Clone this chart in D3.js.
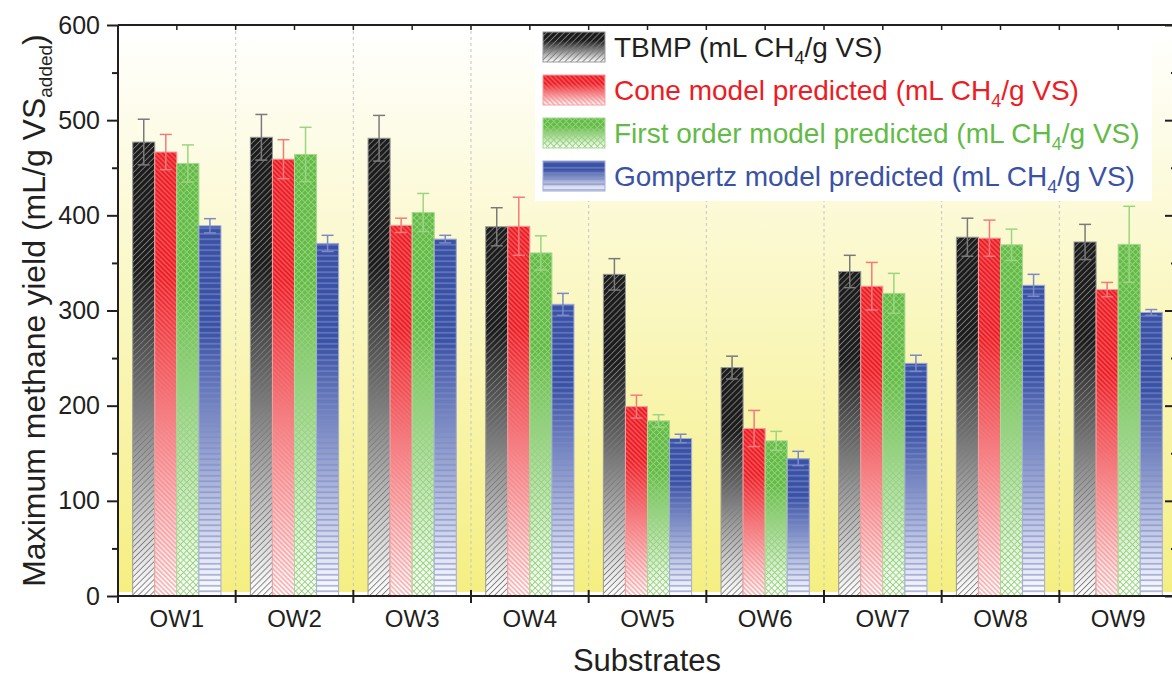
<!DOCTYPE html>
<html lang="en">
<head>
<meta charset="utf-8">
<title>Maximum methane yield</title>
<script src="https://cdn.jsdelivr.net/npm/d3@7"></script>
<style>
    body { margin: 0; background: #fff; }
    svg text { font-family: "Liberation Sans", Arial, sans-serif; fill: #231f20; }
</style>
</head>
<body>
<div id="chart"></div>
<script>
var substrates = ["OW1", "OW2", "OW3", "OW4", "OW5", "OW6", "OW7", "OW8", "OW9"];

var tbmp      = [477, 482, 481, 388, 338, 240, 341, 377, 372];
var tbmpErr   = [24, 24, 24, 20, 16.5, 12, 17, 20, 18.5];
var cone      = [466.5, 459, 389.5, 388.5, 199, 176, 325.5, 376, 322];
var coneErr   = [18.5, 20.5, 7.5, 30.5, 12, 19, 25, 19, 7.5];
var firstOrd  = [454.5, 464, 403, 360.5, 184, 163, 318, 369, 369.5];
var firstErr  = [19.5, 28.5, 20, 18, 6.5, 10, 21, 16.5, 40];
var gompertz  = [389, 370.5, 375, 306.5, 165.5, 144.5, 244.5, 326.5, 298];
var gompErr   = [7.5, 8.5, 4, 11.5, 4.5, 7.5, 8.5, 11.5, 3];

var seriesNames = ["TBMP (mL CH", "Cone model predicted (mL CH", "First order model predicted (mL CH", "Gompertz model predicted (mL CH"];
var yTicks = [0, 100, 200, 300, 400, 500, 600];
var yMinor = [50, 150, 250, 350, 450, 550];

var width = 1172;
var height = 680;
// note: "top" clashes with window.top, so plot edges get their own names
var plotL = 118, plotR = 1177, plotT = 25, plotB = 596;

// colours / hatch per series
var looks = [
    {color: "#1c1c1c", line: "#7c7c7c", edge: "#9a9a9a", err: "#7a7a7a", text: "#231f20", angle: 45, gap: 4.2, cross: false},
    {color: "#ed1c24", line: "#f37d7f", edge: "#f4a0a0", err: "#f47a7a", text: "#ed1c24", angle: -45, gap: 3.4, cross: false},
    {color: "#62bb46", line: "#96d27c", edge: "#a8da92", err: "#9cd580", text: "#62bb46", angle: 45, gap: 4.4, cross: true},
    {color: "#3a52a4", line: "#7b89cc", edge: "#a3acd8", err: "#7d8ac8", text: "#3a52a4", angle: 0, gap: 5.5, cross: false}
];

var series = [
    {vals: tbmp, errs: tbmpErr},
    {vals: cone, errs: coneErr},
    {vals: firstOrd, errs: firstErr},
    {vals: gompertz, errs: gompErr}
];

const svg = d3.select("#chart")
    .append("svg")
    .attr("width", width)
    .attr("height", height);

var defs = svg.append("defs");

var bg = defs.append("linearGradient")
    .attr("id", "bg")
    .attr("x1", 0).attr("y1", 0).attr("x2", 0).attr("y2", 1);
bg.append("stop").attr("offset", "0%").attr("stop-color", "#ffffff");
bg.append("stop").attr("offset", "100%").attr("stop-color", "#f5ef82");

looks.forEach(function(l, i) {
    var g = defs.append("linearGradient")
        .attr("id", "grad" + i)
        .attr("x1", 0).attr("y1", 0).attr("x2", 0).attr("y2", 1);
    g.append("stop").attr("offset", "0%").attr("stop-color", l.color);
    g.append("stop").attr("offset", "28%").attr("stop-color", l.color);
    g.append("stop").attr("offset", "100%").attr("stop-color", "#ffffff");

    var p = defs.append("pattern")
        .attr("id", "hatch" + i)
        .attr("patternUnits", "userSpaceOnUse")
        .attr("width", l.gap)
        .attr("height", l.gap)
        .attr("patternTransform", "rotate(" + l.angle + ")");
    if (l.angle == 0) {
        p.append("line")
            .attr("x1", 0).attr("x2", l.gap)
            .attr("y1", l.gap / 2).attr("y2", l.gap / 2)
            .attr("stroke", l.line).attr("stroke-width", 1.1);
    }
    else {
        p.append("line")
            .attr("x1", l.gap / 2).attr("x2", l.gap / 2)
            .attr("y1", 0).attr("y2", l.gap)
            .attr("stroke", l.line).attr("stroke-width", 0.9);
        if (l.cross) {
            p.append("line")
                .attr("x1", 0).attr("x2", l.gap)
                .attr("y1", l.gap / 2).attr("y2", l.gap / 2)
                .attr("stroke", l.line).attr("stroke-width", 0.9);
        }
    }
});

var x = d3.scaleBand()
    .domain(substrates)
    .range([plotL, plotR]);

var xs = d3.scaleBand()
    .domain(d3.range(series.length))
    .range([x.bandwidth() * 0.125, x.bandwidth() * 0.875]);

var y = d3.scaleLinear()
    .domain([0, 600])
    .range([plotB, plotT]);

// plot background
svg.append("rect")
    .attr("x", plotL).attr("y", plotT)
    .attr("width", plotR - plotL)
    .attr("height", plotB - plotT - 4)
    .attr("fill", "url(#bg)");

// dashed separators
svg.append("g")
    .selectAll("line")
    .data(substrates.slice(1))
    .join("line")
    .attr("x1", function(d) { return x(d); })
    .attr("x2", function(d) { return x(d); })
    .attr("y1", plotT)
    .attr("y2", plotB)
    .attr("stroke", "#c4c4c4")
    .attr("stroke-width", 1)
    .attr("stroke-dasharray", "3,3");

// bars
series.forEach(function(s, i) {
    var l = looks[i];
    var g = svg.append("g");
    var rows = substrates.map(function(c, k) { return {cat: c, v: s.vals[k], e: s.errs[k]}; });

    g.selectAll("rect.fill")
        .data(rows)
        .join("rect")
        .attr("class", "fill")
        .attr("x", function(d) { return x(d.cat) + xs(i); })
        .attr("y", function(d) { return y(d.v); })
        .attr("width", xs.bandwidth())
        .attr("height", function(d) { return y(0) - y(d.v); })
        .attr("fill", "url(#grad" + i + ")");

    g.selectAll("rect.hatch")
        .data(rows)
        .join("rect")
        .attr("class", "hatch")
        .attr("x", function(d) { return x(d.cat) + xs(i); })
        .attr("y", function(d) { return y(d.v); })
        .attr("width", xs.bandwidth())
        .attr("height", function(d) { return y(0) - y(d.v); })
        .attr("fill", "url(#hatch" + i + ")")
        .attr("stroke", l.edge)
        .attr("stroke-width", 1);

    // error bars
    var cx = function(d) { return x(d.cat) + xs(i) + xs.bandwidth() / 2; };
    g.selectAll("line.err")
        .data(rows)
        .join("line")
        .attr("class", "err")
        .attr("x1", cx).attr("x2", cx)
        .attr("y1", function(d) { return y(d.v + d.e); })
        .attr("y2", function(d) { return y(d.v - d.e); })
        .attr("stroke", l.err)
        .attr("stroke-width", 1.5);
    [1, -1].forEach(function(sgn) {
        g.selectAll("line.cap" + (sgn > 0 ? "u" : "d"))
            .data(rows)
            .join("line")
            .attr("class", "cap" + (sgn > 0 ? "u" : "d"))
            .attr("x1", function(d) { return cx(d) - 6; })
            .attr("x2", function(d) { return cx(d) + 6; })
            .attr("y1", function(d) { return y(d.v + sgn * d.e); })
            .attr("y2", function(d) { return y(d.v + sgn * d.e); })
            .attr("stroke", l.err)
            .attr("stroke-width", 1.5);
    });
});

// legend
var leg = svg.append("g");
leg.append("rect")
    .attr("x", 535).attr("y", 28)
    .attr("width", 617).attr("height", 173)
    .attr("fill", "#ffffff");

seriesNames.forEach(function(name, i) {
    var l = looks[i];
    var yy = 32 + i * 43;
    leg.append("rect")
        .attr("x", 543).attr("y", yy)
        .attr("width", 62).attr("height", 30)
        .attr("fill", "url(#grad" + i + ")");
    leg.append("rect")
        .attr("x", 543).attr("y", yy)
        .attr("width", 62).attr("height", 30)
        .attr("fill", "url(#hatch" + i + ")")
        .attr("stroke", l.edge);
    var t = leg.append("text")
        .attr("x", 614)
        .attr("y", yy + 25)
        .style("font-size", "28px")
        .style("fill", l.text);
    t.append("tspan").text(name);
    t.append("tspan").attr("dy", 7).style("font-size", "18px").text("4");
    t.append("tspan").attr("dy", -7).text("/g VS)");
});

// axes
var axisCol = "#231f20";

var yAxis = svg.append("g")
    .attr("transform", "translate(" + plotL + ",0)")
    .call(d3.axisLeft(y).tickValues(yTicks).tickSize(11).tickPadding(7));
yAxis.selectAll("text").style("font-size", "25px").attr("fill", axisCol);

svg.append("g")
    .attr("transform", "translate(" + plotL + ",0)")
    .call(d3.axisLeft(y).tickValues(yMinor).tickSize(6).tickFormat(""));

svg.append("g")
    .attr("transform", "translate(" + plotR + ",0)")
    .call(d3.axisLeft(y).tickValues(yTicks).tickSize(-12).tickFormat(""))
    .selectAll(".tick line").attr("x2", -12);
svg.append("g")
    .attr("transform", "translate(" + plotR + ",0)")
    .call(d3.axisLeft(y).tickValues(yMinor).tickSize(-6).tickFormat(""))
    .selectAll(".tick line").attr("x2", -6);

var xAxis = svg.append("g")
    .attr("transform", "translate(0," + plotB + ")")
    .call(d3.axisBottom(x).tickSize(0).tickPadding(14));
xAxis.selectAll("text").style("font-size", "24px").attr("fill", axisCol);

// category boundary ticks on bottom, half-step ticks on top
var bounds = d3.range(substrates.length + 1).map(function(k) { return plotL + k * x.step(); });
svg.append("g").selectAll("line")
    .data(bounds)
    .join("line")
    .attr("x1", function(d) { return d; }).attr("x2", function(d) { return d; })
    .attr("y1", plotB - 6).attr("y2", plotB + 7)
    .attr("stroke", axisCol).attr("stroke-width", 2);

var halfs = d3.range(substrates.length * 2 + 1).map(function(k) { return plotL + k * x.step() / 2; });
svg.append("g").selectAll("line")
    .data(halfs)
    .join("line")
    .attr("x1", function(d) { return d; }).attr("x2", function(d) { return d; })
    .attr("y1", plotT).attr("y2", plotT + 5)
    .attr("stroke", axisCol).attr("stroke-width", 1.5);

svg.selectAll(".domain").remove();
svg.selectAll(".tick line").attr("stroke", axisCol).attr("stroke-width", 2);

svg.append("line")
    .attr("x1", plotL).attr("x2", plotR).attr("y1", plotB).attr("y2", plotB)
    .attr("stroke", axisCol).attr("stroke-width", 2);
svg.append("line")
    .attr("x1", plotL).attr("x2", plotR).attr("y1", plotT).attr("y2", plotT)
    .attr("stroke", axisCol).attr("stroke-width", 2);
svg.append("line")
    .attr("x1", plotL).attr("x2", plotL).attr("y1", plotT).attr("y2", plotB)
    .attr("stroke", axisCol).attr("stroke-width", 2);

// axis titles
svg.append("text")
    .attr("x", 647)
    .attr("y", 671)
    .attr("text-anchor", "middle")
    .style("font-size", "31px")
    .text("Substrates");

var yt = svg.append("text")
    .attr("transform", "translate(45," + ((plotT + plotB) / 2) + ") rotate(-90)")
    .attr("text-anchor", "middle")
    .style("font-size", "32px");
yt.append("tspan").text("Maximum methane yield (mL/g VS");
yt.append("tspan").attr("dy", 7).style("font-size", "19px").text("added");
yt.append("tspan").attr("dy", -7).text(")");
</script>
</body>
</html>
